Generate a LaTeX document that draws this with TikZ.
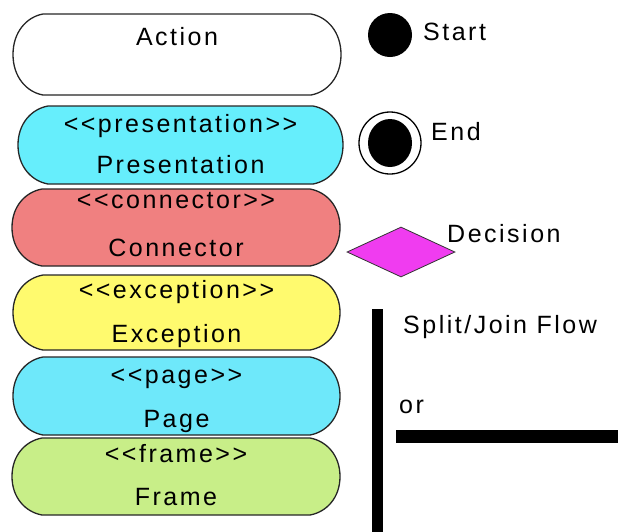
\documentclass[tikz,border=0pt]{standalone}
\usepackage{fontspec}
\setmainfont[LetterSpace=10, Ligatures=TeXOff]{Liberation Sans}
\usetikzlibrary{shapes.geometric}
\definecolor{prescyan}{RGB}{102,238,252}
\definecolor{conncoral}{RGB}{240,128,128}
\definecolor{excyellow}{RGB}{255,250,110}
\definecolor{pagecyan}{RGB}{110,232,250}
\definecolor{framegreen}{RGB}{200,238,136}
\definecolor{decmagenta}{RGB}{240,60,240}
\tikzset{
  capsule/.style={draw=black!85, line width=1.3pt},
  lbl/.style={anchor=base, inner sep=0pt, font=\fontsize{25}{25}\selectfont},
  sidelbl/.style={anchor=base west, inner sep=0pt, font=\fontsize{25}{25}\selectfont},
  bar/.style={fill=black, draw=none, inner sep=0pt},
}
% action-state capsule: flat top and bottom, bulging elliptic ends
% #1 name, #2 fill, #3 left, #4 top, #5 right, #6 bottom
\newcommand\capsulebox[6]{%
  \path[capsule, fill=#2]
    (#3+30,#4) -- (#5-30,#4)
    .. controls (#5-13.4,#4+3) and (#5,{(#4+#6)/2-0.55*(#6-#4)/2}) .. (#5,{(#4+#6)/2})
    .. controls (#5,{(#4+#6)/2+0.55*(#6-#4)/2}) and (#5-13.4,#6-3) .. (#5-30,#6)
    -- (#3+30,#6)
    .. controls (#3+13.4,#6-3) and (#3,{(#4+#6)/2+0.55*(#6-#4)/2}) .. (#3,{(#4+#6)/2})
    .. controls (#3,{(#4+#6)/2-0.55*(#6-#4)/2}) and (#3+13.4,#4+3) .. cycle;
  \coordinate (#1) at ({(#3+#5)/2},{(#4+#6)/2});%
}
\begin{document}
\begin{tikzpicture}[x=1pt, y=-1pt]
  \useasboundingbox (0,0) rectangle (618,531);

  % stacked action-state capsules
  \capsulebox{act}{white}{13}{14}{341}{95}
  \capsulebox{pres}{prescyan}{18}{106}{343}{184}
  \capsulebox{conn}{conncoral}{12}{189}{340}{266}
  \capsulebox{exc}{excyellow}{13}{275}{340}{350}
  \capsulebox{page}{pagecyan}{13}{357}{340}{435}
  \capsulebox{frame}{framegreen}{12}{438}{340}{515}

  \node[lbl] (actname)  at (act   |- 0,45)  {Action};
  \node[lbl] (presst)   at (pres  |- 0,132) {<<presentation>>};
  \node[lbl] (presname) at (pres  |- 0,173) {Presentation};
  \node[lbl] (connst)   at (conn  |- 0,208) {<<connector>>};
  \node[lbl] (connname) at (conn  |- 0,256) {Connector};
  \node[lbl] (excst)    at (exc   |- 0,298) {<<exception>>};
  \node[lbl] (excname)  at (exc   |- 0,342) {Exception};
  \node[lbl] (pagest)   at (page  |- 0,383) {<<page>>};
  \node[lbl] (pagename) at (page  |- 0,427) {Page};
  \node[lbl] (framest)  at (frame |- 0,462) {<<frame>>};
  \node[lbl] (framename)at (frame |- 0,505) {Frame};

  % start and end states
  \node[circle, fill=black, minimum size=44pt, inner sep=0pt] (start) at (390,35) {};
  \node[sidelbl] (startlbl) at (423,40) {Start};
  \node[circle, draw=black, line width=1.3pt, minimum size=62pt, inner sep=0pt] (endring) at (390,143) {};
  \node[ellipse, fill=black, minimum width=44pt, minimum height=48pt, inner sep=0pt] (enddot) at (390,143) {};
  \node[sidelbl] (endlbl) at (431,140) {End};

  % decision
  \node[diamond, fill=decmagenta, draw=black!80, line width=0.8pt, aspect=2.1,
        minimum width=108pt, minimum height=50pt, inner sep=0pt] (dec) at (401,252) {};
  \node[sidelbl] (declbl) at (447,242) {Decision};

  % split / join bars
  \node[bar, minimum width=11pt, minimum height=223pt, anchor=north] (vbar) at (377.5,309) {};
  \node[sidelbl] (splitlbl) at (403,333) {Split/Join Flow};
  \node[sidelbl] (orlbl) at (399,413) {or};
  \node[bar, minimum width=223pt, minimum height=13pt, anchor=west] (hbar) at (396,436.5) {};
\end{tikzpicture}
\end{document}
